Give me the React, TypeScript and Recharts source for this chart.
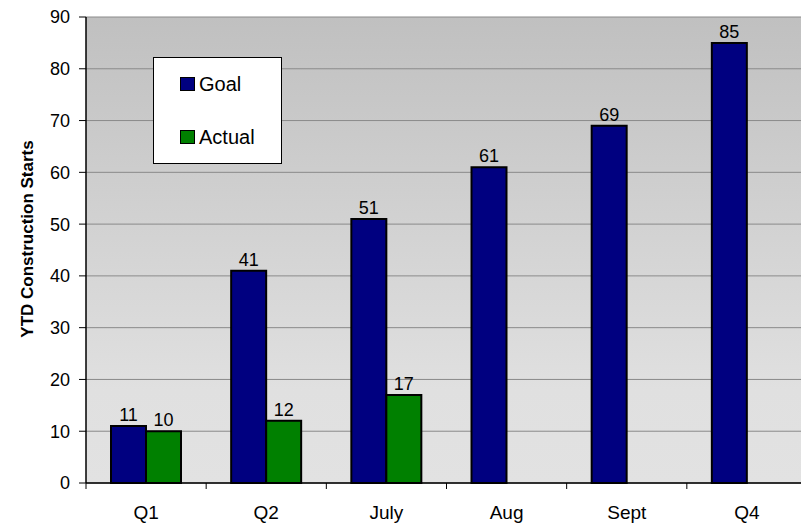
import React from 'react';
import { BarChart, Bar, XAxis, YAxis, CartesianGrid, LabelList, Legend } from 'recharts';

const categories = ['Q1', 'Q2', 'July', 'Aug', 'Sept', 'Q4'];
const goalValues = [11, 41, 51, 61, 69, 85];
const actualValues: (number | null)[] = [10, 12, 17, null, null, null];
const yTicks = [0, 10, 20, 30, 40, 50, 60, 70, 80, 90];
const seriesNames = ['Goal', 'Actual'];

const data = categories.map((name, i) => ({ name, Goal: goalValues[i], Actual: actualValues[i] }));

const FONT = '"Liberation Sans", Arial, sans-serif';
const CHART_W = 808;
const CHART_H = 527;
const MARGIN = { top: 17, right: 1, bottom: 0, left: 0 };
const Y_W = 86;
const X_H = 44;
const BAND = (CHART_W - MARGIN.left - MARGIN.right - Y_W) / categories.length;

const COLORS: Record<string, string> = { Goal: '#000080', Actual: '#008000' };

function XTick(props: any) {
  const { x, y, payload, index } = props;
  const last = index === categories.length - 1;
  return (
    <g>
      <line x1={x - BAND / 2} x2={x - BAND / 2} y1={y} y2={y + 6} stroke="#000" strokeWidth={1} />
      {last && <line x1={x + BAND / 2} x2={x + BAND / 2} y1={y} y2={y + 6} stroke="#000" strokeWidth={1} />}
      <text x={x} y={y + 36} textAnchor="middle" fontSize={19} fontFamily={FONT} fill="#000">
        {payload.value}
      </text>
    </g>
  );
}

function YLabel() {
  return (
    <text
      x={27}
      y={239}
      transform="rotate(-90 27 239)"
      textAnchor="middle"
      dominantBaseline="central"
      fontSize={17}
      fontWeight="bold"
      fontFamily={FONT}
      fill="#000"
    >
      YTD Construction Starts
    </text>
  );
}

function LegendBox(props: any) {
  const payload = ([...(props.payload || [])] as any[]).sort(
    (a, b) => seriesNames.indexOf(a.value) - seriesNames.indexOf(b.value)
  );
  const tops = [20, 73];
  return (
    <div
      style={{
        position: 'relative',
        width: 129,
        height: 107,
        background: '#fff',
        border: '1px solid #000',
        boxSizing: 'border-box',
        fontFamily: FONT,
      }}
    >
      {payload.map((p, i) => (
        <div key={p.value} style={{ position: 'absolute', left: 26, top: tops[i] - 1, height: 14, display: 'flex', alignItems: 'center' }}>
          <div style={{ width: 15, height: 14, boxSizing: 'border-box', border: '1px solid #000', background: COLORS[p.value] }} />
          <span style={{ marginLeft: 4, fontSize: 20, lineHeight: '14px', color: '#000' }}>{p.value}</span>
        </div>
      ))}
    </div>
  );
}

export default function App() {
  return (
    <div style={{ position: 'absolute', left: 0, top: 0, width: 801, height: 527, overflow: 'hidden', background: '#fff' }}>
      <BarChart width={CHART_W} height={CHART_H} data={data} margin={MARGIN} barGap={0} barSize={35}>
        <defs>
          <linearGradient id="bgGrad" x1="0" y1="0" x2="0" y2="1">
            <stop offset="0%" stopColor="#c0c0c0" />
            <stop offset="80%" stopColor="#e0e0e0" />
            <stop offset="100%" stopColor="#e2e2e2" />
          </linearGradient>
        </defs>
        <CartesianGrid vertical={false} stroke="#8a8a8a" fill="url(#bgGrad)" fillOpacity={1} />
        <XAxis
          dataKey="name"
          height={X_H}
          tickSize={0}
          tickMargin={0}
          tickLine={false}
          axisLine={{ stroke: '#000', strokeWidth: 1.5 }}
          tick={<XTick />}
          interval={0}
        />
        <YAxis
          width={Y_W}
          domain={[0, 90]}
          ticks={yTicks}
          interval={0}
          tickSize={7}
          tickMargin={9}
          tickLine={{ stroke: '#000' }}
          axisLine={{ stroke: '#000', strokeWidth: 1.5 }}
          tick={{ fontSize: 18, fill: '#000', fontFamily: FONT }}
          label={<YLabel />}
        />
        <Legend
          layout="vertical"
          align="center"
          verticalAlign="middle"
          content={<LegendBox />}
          wrapperStyle={{ position: 'absolute', left: 153, top: 57, width: 129, height: 107 }}
        />
        <Bar dataKey="Goal" fill={COLORS.Goal} stroke="#000" strokeWidth={2} isAnimationActive={false}>
          <LabelList dataKey="Goal" position="top" offset={5} fontSize={18} fill="#000" fontFamily={FONT} />
        </Bar>
        <Bar dataKey="Actual" fill={COLORS.Actual} stroke="#000" strokeWidth={2} isAnimationActive={false}>
          <LabelList dataKey="Actual" position="top" offset={5} fontSize={18} fill="#000" fontFamily={FONT} />
        </Bar>
      </BarChart>
    </div>
  );
}
